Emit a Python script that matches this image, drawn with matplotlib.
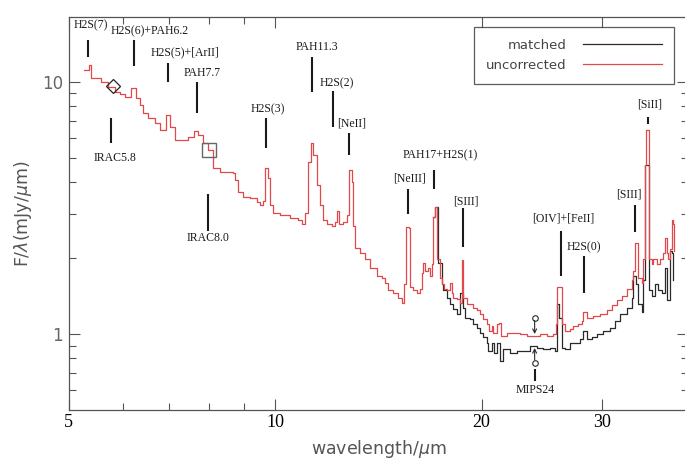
import matplotlib
matplotlib.use("Agg")
import matplotlib.pyplot as plt
from matplotlib.ticker import FixedLocator, NullFormatter, FixedFormatter

# uncorrected IRS spectrum, each flux is the level starting at that wavelength
wave_unc = [5.26, 5.35, 5.39, 5.46, 5.57, 5.70, 5.84, 5.94, 6.04, 6.16,
            6.27, 6.35, 6.41, 6.52, 6.68, 6.79, 6.93, 7.02, 7.14, 7.29,
            7.46, 7.61, 7.72, 7.85, 7.98, 8.11, 8.31, 8.53, 8.68, 8.74,
            8.83, 8.97, 9.19, 9.41, 9.50, 9.60, 9.66, 9.76, 9.83, 9.93,
            10.16, 10.51, 10.80, 10.94, 11.05, 11.16, 11.28, 11.35, 11.51, 11.62,
            11.74, 11.90, 12.10, 12.22, 12.31, 12.39, 12.56, 12.73, 12.81, 12.94,
            12.99, 13.07, 13.29, 13.52, 13.75, 14.07, 14.31, 14.46, 14.60, 14.85,
            15.10, 15.31, 15.41, 15.51, 15.67, 15.72, 15.88, 16.10, 16.26, 16.37,
            16.43, 16.54, 16.70, 16.82, 16.93, 16.99, 17.10, 17.22, 17.39, 17.51,
            17.63, 17.80, 17.98, 18.10, 18.17, 18.41, 18.60, 18.72, 18.79, 19.04,
            19.43, 19.69, 19.89, 20.09, 20.36, 20.50, 20.71, 20.78, 21.06, 21.20,
            21.34, 21.78, 22.22, 22.75, 23.29, 23.76, 24.33, 24.91, 25.41, 25.67,
            25.76, 26.02, 26.19, 26.46, 26.91, 27.18, 27.64, 28.01, 28.11, 28.49,
            29.07, 29.76, 30.47, 30.98, 31.51, 32.04, 32.58, 33.14, 33.25, 33.47,
            33.70, 33.81, 34.27, 34.38, 34.61, 34.73, 34.96, 35.08, 35.44, 35.56,
            36.04, 36.40, 36.77, 37.02, 37.27, 37.39, 37.65, 37.90, 38.03, 38.16]
flux_unc = [11.13, 11.65, 10.34, 10.34, 9.97, 9.53, 9.10, 8.94, 8.70, 9.44,
            8.62, 8.08, 7.51, 7.17, 6.85, 6.43, 7.37, 6.61, 5.87, 5.87,
            6.03, 6.37, 6.14, 5.71, 5.35, 4.54, 4.38, 4.38, 4.34, 4.07,
            3.64, 3.48, 3.45, 3.33, 3.24, 3.36, 4.54, 4.14, 3.24, 3.03,
            2.95, 2.87, 2.82, 2.74, 3.03, 4.80, 5.71, 5.11, 3.89, 3.24,
            2.82, 2.74, 2.69, 2.77, 3.06, 2.74, 2.77, 2.95, 4.46, 3.99,
            2.69, 2.20, 2.10, 1.99, 1.83, 1.70, 1.67, 1.60, 1.49, 1.45,
            1.39, 1.33, 1.58, 2.65, 2.62, 1.53, 1.49, 1.46, 1.51, 1.74,
            1.92, 1.78, 1.82, 1.70, 1.90, 2.90, 3.18, 1.99, 1.67, 1.58,
            1.51, 1.49, 1.60, 1.46, 1.39, 1.38, 1.33, 1.96, 1.39, 1.32,
            1.27, 1.24, 1.20, 1.15, 1.10, 1.03, 1.08, 1.01, 1.10, 1.11,
            0.98, 1.01, 1.01, 1.00, 0.98, 0.98, 1.00, 0.98, 1.00, 1.10,
            1.53, 1.53, 1.10, 1.03, 1.05, 1.08, 1.10, 1.13, 1.22, 1.16,
            1.18, 1.20, 1.24, 1.30, 1.36, 1.42, 1.51, 1.63, 1.78, 2.29,
            2.29, 1.67, 1.60, 1.99, 4.67, 6.43, 6.43, 1.99, 1.90, 1.99,
            1.90, 1.99, 2.09, 2.41, 2.09, 1.99, 2.18, 2.82, 2.74, 2.14]

# matched spectrum longward of 17 um (shorter wavelengths equal the uncorrected one)
wave_match_tail = [17.27, 17.51, 17.57, 17.80, 17.98, 18.17, 18.41, 18.60, 18.79, 18.91,
                   19.23, 19.43, 19.69, 19.89, 20.09, 20.36, 20.43, 20.71, 20.85, 21.06,
                   21.27, 21.49, 22.00, 22.52, 22.98, 23.52, 24.08, 24.57, 25.16, 25.59,
                   25.76, 25.93, 26.19, 26.46, 26.91, 27.36, 27.83, 28.11, 28.49, 28.97,
                   29.46, 30.06, 30.78, 31.30, 31.83, 32.58, 33.14, 33.25, 33.58, 33.81,
                   34.27, 34.38, 34.61, 34.96, 35.08, 35.44, 35.80, 36.16, 36.65, 37.02,
                   37.27, 37.65, 37.90, 38.03]
flux_match_tail = [1.92, 1.58, 1.49, 1.39, 1.32, 1.26, 1.20, 1.46, 1.27, 1.16,
                   1.15, 1.10, 1.06, 1.01, 0.97, 0.92, 0.86, 0.92, 0.84, 0.92,
                   0.78, 0.87, 0.84, 0.86, 0.86, 0.90, 0.88, 0.87, 0.88, 0.86,
                   1.32, 1.16, 0.88, 0.87, 0.92, 0.92, 0.96, 1.03, 0.96, 0.97,
                   1.00, 1.03, 1.06, 1.13, 1.20, 1.27, 1.39, 1.70, 1.58, 1.32,
                   1.22, 1.63, 4.67, 4.67, 1.49, 1.42, 1.58, 1.49, 1.45, 1.83,
                   1.36, 2.14, 2.10, 1.63]

wave_match = [w for w in wave_unc if w < 17.2] + wave_match_tail
flux_match = [f for w, f in zip(wave_unc, flux_unc) if w < 17.2] + flux_match_tail

# IRAC photometry
irac_wave = [5.8, 8.0]
irac_flux = [9.61, 5.35]

# MIPS 24 um: open circles with arrows onto the two spectra
mips_wave = 23.9
mips_marks = [1.16, 0.77]
mips_tips = [1.0, 0.88]

# feature labels: text, tick wavelength, tick bottom, tick top, text wavelength, text flux
features = [
    ("H2S(7)", 5.33, 12.54, 14.65, 5.38, 16.8),
    ("H2S(6)+PAH6.2", 6.22, 11.54, 14.65, 6.57, 15.8),
    ("H2S(5)+[ArII]", 6.98, 9.97, 11.87, 7.39, 13.12),
    ("PAH7.7", 7.69, 7.51, 9.97, 7.82, 10.83),
    ("H2S(3)", 9.70, 5.45, 7.17, 9.76, 7.79),
    ("PAH11.3", 11.32, 9.10, 12.54, 11.51, 13.74),
    ("H2S(2)", 12.14, 6.61, 9.18, 12.31, 9.88),
    ("[NeII]", 12.81, 5.11, 6.25, 12.94, 6.85),
    ("PAH17+H2S(1)", 17.05, 3.75, 4.46, 17.39, 5.11),
    ("[NeIII]", 15.62, 2.98, 3.75, 15.72, 4.14),
    ("[SIII]", 18.79, 2.22, 3.15, 19.0, 3.36),
    ("[OIV]+[FeII]", 26.11, 1.70, 2.57, 26.28, 2.87),
    ("H2S(0)", 28.22, 1.46, 2.03, 28.2, 2.20),
    ("[SIII]", 33.47, 2.53, 3.24, 32.8, 3.58),
    ("[SiII]", 34.96, 6.79, 7.24, 35.2, 8.15),
]
# photometric band labels sit below their ticks
bands = [
    ("IRAC5.8", 5.76, 5.71, 7.17, 5.85, 4.97),
    ("IRAC8.0", 7.98, 2.57, 3.58, 7.98, 2.41),
    ("MIPS24", 23.9, 0.652, 0.728, 23.95, 0.601),
]

red = "#e2484a"
dark = "#2a2a2a"
axis_grey = "#555555"

fig = plt.figure(figsize=(6.85, 4.66), dpi=100)
ax = fig.add_axes([0.1004, 0.1202, 0.904, 0.8440])

# below 17 um the matched curve lies under the red one, so draw it from the split on
i0 = next(i for i, w in enumerate(wave_match) if w >= 16.99)
ax.plot(wave_match[i0:], flux_match[i0:], drawstyle="steps-post", color=dark, lw=0.9,
        label="matched", zorder=2)
ax.plot(wave_unc, flux_unc, drawstyle="steps-post", color=red, lw=0.9,
        label="uncorrected", zorder=3)

ax.plot(irac_wave[:1], irac_flux[:1], "D", ms=7.5, mfc="none", mec="#222222",
        mew=0.9, zorder=4)
ax.plot(irac_wave[1:], irac_flux[1:], "s", ms=9.5, mfc="none", mec="#666666",
        mew=1.0, zorder=4)

for mark, tip in zip(mips_marks, mips_tips):
    ax.plot([mips_wave], [mark], "o", ms=4, mfc="none", mec=dark, mew=0.8, zorder=4)
    ax.annotate("", xy=(mips_wave, tip), xytext=(mips_wave, mark),
                arrowprops=dict(arrowstyle="->", color=dark, lw=0.8,
                                shrinkA=2, shrinkB=0, mutation_scale=7),
                zorder=4)

label_font = dict(family="Liberation Serif", size=8.5, color="#1a1a1a")
for text, lw_, y0, y1, tw, ty in features + bands:
    ax.plot([lw_, lw_], [y0, y1], color="#1a1a1a", lw=1.5, solid_capstyle="butt")
    ax.text(tw, ty, text, ha="center", va="center", **label_font)

ax.set_xscale("log")
ax.set_yscale("log")
ax.set_xlim(5, 40)
ax.set_ylim(0.5, 18.1)

ax.xaxis.set_major_locator(FixedLocator([5, 10, 20, 30]))
ax.xaxis.set_major_formatter(FixedFormatter(["5", "10", "20", "30"]))
ax.xaxis.set_minor_locator(FixedLocator([6, 7, 8, 9]))
ax.xaxis.set_minor_formatter(NullFormatter())
ax.yaxis.set_major_locator(FixedLocator([1, 10]))
ax.yaxis.set_major_formatter(FixedFormatter(["1", "10"]))
ax.yaxis.set_minor_locator(FixedLocator([0.6, 0.7, 0.8, 0.9, 2, 3, 4, 5, 6, 7, 8, 9]))
ax.yaxis.set_minor_formatter(NullFormatter())

ax.tick_params(which="both", direction="in", top=True, right=True,
               color=axis_grey, width=0.8)
ax.tick_params(which="major", length=8)
ax.tick_params(which="minor", length=5)
ax.tick_params(axis="x", which="major", pad=3, labelsize=13)
ax.tick_params(axis="y", which="major", pad=4, labelsize=12, labelcolor="#666666")
for lab in ax.get_xticklabels():
    lab.set_family("Liberation Serif")
for s in ax.spines.values():
    s.set_color(axis_grey)
    s.set_linewidth(0.9)

ax.set_xlabel(r"wavelength/$\mu$m", fontsize=12.5, color="#555555", labelpad=5)
ax.set_ylabel(r"F/$\lambda$(mJy/$\mu$m)", fontsize=12.5, color="#555555", labelpad=6)

leg = ax.legend(loc="upper right", bbox_to_anchor=(0.977, 0.974), borderaxespad=0,
                markerfirst=False, frameon=True, fancybox=False, fontsize=9.5,
                handlelength=6.0, handletextpad=1.2, labelspacing=0.55,
                borderpad=0.9, labelcolor="#444444")
leg.get_frame().set_edgecolor("#333333")
leg.get_frame().set_linewidth(0.9)
for t in leg.get_texts():
    t.set_ha("right")

fig.savefig("out.png", dpi=100)
